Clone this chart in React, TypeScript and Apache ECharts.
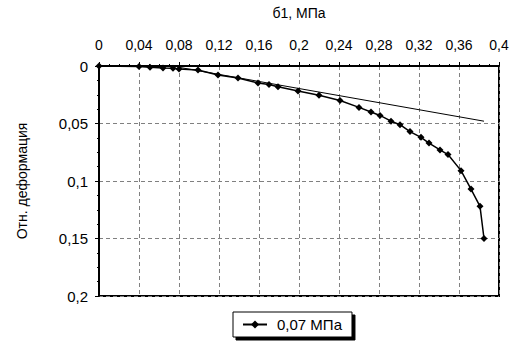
import React, { useEffect, useRef } from "react";
import * as echarts from "echarts";

const stressX = [0, 0.04, 0.051, 0.064, 0.074, 0.08, 0.099, 0.119, 0.139, 0.159, 0.17, 0.179, 0.199, 0.22, 0.241, 0.26, 0.272, 0.281, 0.292, 0.301, 0.311, 0.322, 0.33, 0.341, 0.349, 0.362, 0.372, 0.381, 0.385];
const strainY = [0, 0.0005, 0.001, 0.0017, 0.002, 0.0026, 0.0035, 0.0078, 0.0104, 0.0148, 0.016, 0.018, 0.0217, 0.0255, 0.03, 0.036, 0.04, 0.043, 0.048, 0.051, 0.057, 0.062, 0.067, 0.073, 0.077, 0.091, 0.107, 0.122, 0.15];
const lineX = [0.079, 0.385];
const lineY = [0.001, 0.048];
const seriesName = "0,07 МПа";
const xTitle = "б1, МПа";
const yTitle = "Отн. деформация";

const fmt = (v: number) => String(+v.toFixed(3)).replace(".", ",");

export default function App() {
  const ref = useRef<HTMLDivElement>(null);
  useEffect(() => {
    const chart = echarts.init(ref.current!, null, { renderer: "svg" });
    const font = "'Liberation Sans', Arial, sans-serif";
    chart.setOption({
      animation: false,
      backgroundColor: "#fff",
      textStyle: { fontFamily: font, color: "#000" },
      grid: {
        left: 99, top: 66, width: 400, height: 230,
        show: true, borderColor: "#000", borderWidth: 2, backgroundColor: "transparent",
      },
      xAxis: {
        type: "value", position: "top", min: 0, max: 0.4, interval: 0.04,
        name: xTitle, nameLocation: "middle", nameGap: 46,
        nameTextStyle: { fontSize: 14, fontFamily: font, color: "#000" },
        axisLine: { show: true, lineStyle: { color: "#000", width: 2 } },
        axisTick: { show: true, length: 4, lineStyle: { color: "#000" } },
        minorTick: { show: true, splitNumber: 4, length: 2, lineStyle: { color: "#000" } },
        axisLabel: { fontSize: 14, color: "#000", fontFamily: font, margin: 14, formatter: fmt },
        splitLine: { show: true, lineStyle: { color: "#808080", type: [4, 3], width: 1 } },
      },
      yAxis: {
        type: "value", inverse: true, min: 0, max: 0.2, interval: 0.05,
        name: yTitle, nameLocation: "middle", nameGap: 70, nameRotate: 90,
        nameTextStyle: { fontSize: 14, fontFamily: font, color: "#000" },
        axisLine: { show: true, lineStyle: { color: "#000", width: 2 } },
        axisTick: { show: true, length: 4, lineStyle: { color: "#000" } },
        minorTick: { show: true, splitNumber: 4, length: 2, lineStyle: { color: "#000" } },
        axisLabel: { fontSize: 15, color: "#000", fontFamily: font, margin: 11, formatter: fmt },
        splitLine: { show: true, lineStyle: { color: "#808080", type: [4, 3], width: 1 } },
      },
      legend: {
        data: [seriesName], left: 233, top: 312, orient: "horizontal",
        padding: [5, 10, 5, 9], itemWidth: 24, itemHeight: 10, itemGap: 5,
        backgroundColor: "#fff", borderColor: "#000", borderWidth: 1,
        shadowColor: "#000", shadowBlur: 0, shadowOffsetX: 3, shadowOffsetY: 3,
        textStyle: { fontSize: 15, color: "#000", fontFamily: font, padding: [0, 0, 0, 5] },
      },
      series: [
        {
          name: seriesName, type: "line",
          data: stressX.map((x, i) => [x, strainY[i]]),
          symbol: "diamond", symbolSize: 7, showSymbol: true,
          lineStyle: { color: "#000", width: 1.5 },
          itemStyle: { color: "#000" },
        },
        {
          name: "linear", type: "line",
          data: lineX.map((x, i) => [x, lineY[i]]),
          symbol: "none",
          lineStyle: { color: "#000", width: 1 },
        },
      ],
    });
    return () => chart.dispose();
  }, []);
  return <div ref={ref} style={{ width: 525, height: 345, position: "absolute", left: 0, top: 0 }} />;
}
